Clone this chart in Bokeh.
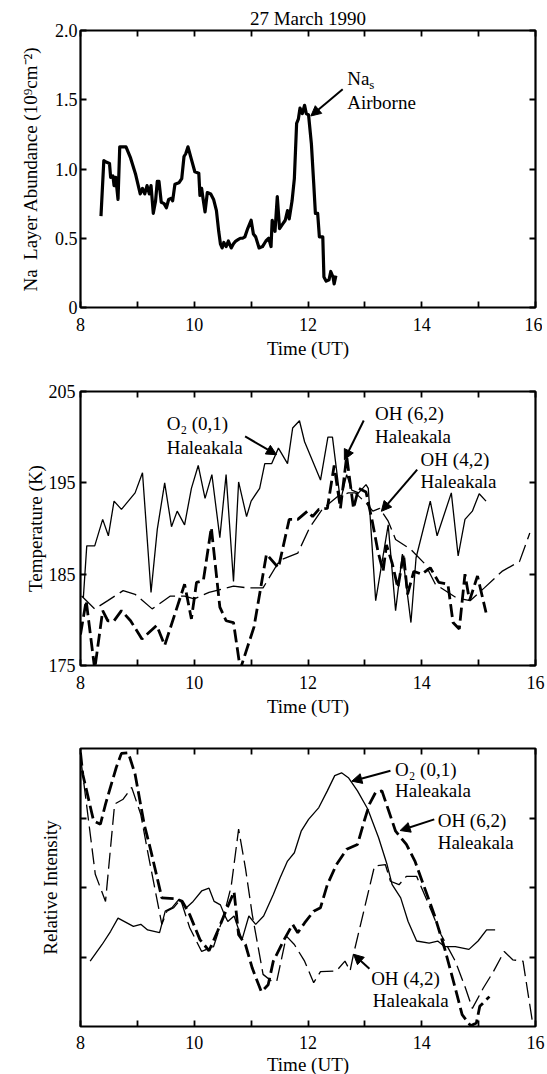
from bokeh.plotting import figure
from bokeh.models import LinearAxis, FixedTicker, Range1d, Label, Arrow, NormalHead, CustomLabelingPolicy
from bokeh.layouts import column
from bokeh.embed import file_html
from bokeh.resources import INLINE

FONT = "Liberation Serif"

# ---------------- data ----------------
# Panel 1: Na layer abundance (airborne), 10^9 cm^-2
na_time = [8.36, 8.41, 8.45, 8.51, 8.53, 8.57, 8.59, 8.62, 8.66, 8.69, 8.72, 8.80, 8.88, 8.97,
           9.05, 9.09, 9.13, 9.17, 9.21, 9.24, 9.28, 9.32, 9.35, 9.38, 9.42, 9.47, 9.51, 9.55,
           9.60, 9.62, 9.66, 9.73, 9.78, 9.82, 9.85, 9.89, 9.95, 10.01, 10.08, 10.10, 10.13,
           10.15, 10.19, 10.23, 10.29, 10.34, 10.39, 10.43, 10.46, 10.49, 10.52, 10.56, 10.60,
           10.65, 10.69, 10.73, 10.77, 10.81, 10.85, 10.89, 10.94, 11.00, 11.04, 11.08, 11.14,
           11.20, 11.26, 11.31, 11.35, 11.37, 11.42, 11.46, 11.50, 11.55, 11.60, 11.64, 11.67,
           11.72, 11.76, 11.80, 11.83, 11.86, 11.90, 11.94, 11.97, 12.01, 12.06, 12.10, 12.13,
           12.17, 12.20, 12.26, 12.28, 12.32, 12.37, 12.40, 12.44, 12.46, 12.49]
na_abund = [0.66, 1.06, 1.05, 1.04, 0.94, 0.95, 0.88, 0.94, 0.78, 1.16, 1.16, 1.16, 1.08, 0.96,
            0.82, 0.86, 0.82, 0.88, 0.82, 0.88, 0.68, 0.77, 0.91, 0.91, 0.76, 0.75, 0.72, 0.78,
            0.79, 0.77, 0.89, 0.90, 0.93, 1.09, 1.11, 1.16, 1.07, 0.98, 0.97, 0.81, 0.86,
            0.80, 0.69, 0.83, 0.82, 0.78, 0.70, 0.55, 0.46, 0.43, 0.47, 0.44, 0.48,
            0.43, 0.46, 0.48, 0.49, 0.50, 0.50, 0.51, 0.57, 0.63, 0.53, 0.51, 0.43,
            0.44, 0.48, 0.50, 0.44, 0.63, 0.55, 0.80, 0.57, 0.60, 0.63, 0.70, 0.64,
            0.77, 0.93, 1.33, 1.36, 1.44, 1.40, 1.46, 1.40, 1.39, 1.18, 0.90, 0.68,
            0.68, 0.51, 0.51, 0.22, 0.19, 0.20, 0.26, 0.22, 0.17, 0.23]

# Panel 2: rotational temperatures (K)
o2_temp_time = [8.05, 8.11, 8.25, 8.39, 8.49, 8.59, 8.72, 8.96, 9.09, 9.24, 9.35, 9.48, 9.60,
                9.70, 9.83, 9.95, 10.07, 10.19, 10.31, 10.45, 10.56, 10.69, 10.78, 10.92, 11.00,
                11.15, 11.24, 11.36, 11.48, 11.64, 11.73, 11.85, 11.94, 12.22, 12.35, 12.43,
                12.57, 12.68, 12.77, 12.89, 13.02, 13.06, 13.19, 13.41, 13.54, 13.66, 13.81,
                13.90, 14.15, 14.27, 14.52, 14.64, 14.76, 14.89, 15.01, 15.13]
o2_temp = [182.4, 188.1, 188.1, 191.0, 189.2, 193.0, 192.1, 193.9, 196.1, 183.0, 189.9, 195.0, 190.2,
           191.9, 190.4, 194.4, 196.9, 193.3, 195.9, 189.0, 195.9, 184.2, 195.1, 191.3, 193.0,
           194.4, 197.1, 197.1, 198.8, 197.1, 201.0, 201.8, 199.5, 195.3, 200.0, 200.0,
           193.0, 195.9, 194.2, 193.9, 194.8, 194.4, 182.1, 190.4, 181.0, 187.2, 179.7,
           186.8, 193.0, 189.2, 193.9, 187.0, 191.0, 191.9, 193.8, 193.0]
oh62_temp_time = [8.00, 8.10, 8.25, 8.39, 8.48, 8.59, 8.72, 8.88, 9.08, 9.34, 9.48, 9.83, 9.95,
                  10.04, 10.16, 10.30, 10.45, 10.56, 10.69, 10.81, 11.05, 11.27, 11.48, 11.67,
                  11.82, 11.99, 12.08, 12.19, 12.34, 12.46, 12.57, 12.68, 12.80, 12.89, 13.02,
                  13.13, 13.23, 13.32, 13.38, 13.48, 13.58, 13.68, 13.75, 13.86, 14.00, 14.15,
                  14.30, 14.46, 14.55, 14.66, 14.76, 14.84, 14.98, 15.13]
oh62_temp = [178.4, 182.1, 174.6, 181.0, 179.9, 179.9, 181.0, 179.9, 177.9, 179.4, 177.2, 183.9, 180.1,
             184.1, 184.3, 190.1, 181.4, 179.9, 179.7, 174.6, 179.2, 187.2, 185.7, 191.0,
             191.0, 191.9, 191.3, 192.1, 192.2, 196.9, 192.2, 197.9, 192.2, 194.4, 194.0,
             190.8, 187.5, 185.3, 188.2, 186.2, 183.5, 187.2, 182.8, 185.3, 185.0, 185.7,
             184.1, 183.9, 179.7, 179.0, 185.0, 182.1, 184.8, 180.8]
oh42_temp_time = [8.02, 8.25, 8.48, 8.75, 8.96, 9.26, 9.58, 9.83, 10.00, 10.26, 10.69, 10.93, 11.21,
                  11.50, 11.82, 12.03, 12.25, 12.52, 12.71, 12.83, 13.02, 13.14, 13.26, 13.41,
                  13.54, 13.81, 14.06, 14.24, 14.61, 14.85, 15.10, 15.41, 15.72, 15.90]
oh42_temp = [182.6, 181.2, 182.1, 183.2, 182.8, 181.2, 182.6, 182.6, 182.3, 183.0, 183.7, 183.5, 183.5,
             186.5, 187.3, 190.1, 192.1, 193.5, 193.9, 193.9, 192.8, 191.9, 192.2, 190.8,
             188.8, 187.7, 186.1, 183.9, 182.4, 182.1, 183.5, 185.3, 186.4, 189.5]

# Panel 3: relative intensities (arbitrary units)
o2_int_time = [8.17, 8.38, 8.53, 8.66, 8.93, 9.06, 9.18, 9.39, 9.49, 9.61, 9.73, 9.86, 9.98, 10.13,
               10.26, 10.35, 10.46, 10.53, 10.59, 10.70, 10.84, 10.96, 11.08, 11.22, 11.39, 11.51,
               11.64, 11.76, 11.88, 12.01, 12.19, 12.34, 12.47, 12.59, 12.71, 12.87, 13.05, 13.24,
               13.39, 13.48, 13.63, 13.76, 13.91, 14.13, 14.28, 14.40, 14.59, 14.83, 14.99, 15.14,
               15.29]
o2_int = [0.94, 1.18, 1.37, 1.56, 1.44, 1.47, 1.39, 1.35, 1.66, 1.71, 1.83, 1.71, 1.80, 1.95,
          1.99, 1.80, 1.75, 1.61, 1.51, 1.59, 1.25, 1.59, 1.47, 1.59, 1.90, 2.14,
          2.38, 2.50, 2.81, 2.98, 3.15, 3.39, 3.61, 3.65, 3.58, 3.39, 3.13, 2.72,
          2.33, 2.04, 1.85, 1.51, 1.23, 1.20, 1.23, 1.15, 1.15, 1.11, 1.23, 1.39,
          1.39]
oh62_int_time = [8.00, 8.04, 8.23, 8.35, 8.44, 8.63, 8.72, 8.84, 8.96, 9.12, 9.24, 9.43, 9.67, 9.79,
                 9.92, 10.10, 10.26, 10.41, 10.53, 10.70, 10.78, 10.90, 11.02, 11.18, 11.30, 11.39,
                 11.58, 11.73, 11.82, 11.94, 12.10, 12.22, 12.34, 12.50, 12.68, 12.87, 12.99, 13.08,
                 13.19, 13.30, 13.42, 13.54, 13.73, 13.88, 14.03, 14.22, 14.40, 14.59, 14.71, 14.86,
                 14.96, 15.02, 15.19]
oh62_int = [3.94, 3.63, 2.96, 2.91, 3.20, 3.73, 3.93, 3.94, 3.63, 2.91, 2.52, 1.85, 1.84, 1.80,
            1.61, 1.25, 1.09, 1.37, 1.61, 1.94, 1.32, 1.18, 0.84, 0.50, 0.60, 0.94,
            1.25, 1.47, 1.35, 1.49, 1.66, 1.71, 2.04, 2.33, 2.55, 2.62, 2.96, 3.20,
            3.37, 3.39, 3.10, 2.81, 2.62, 2.38, 2.04, 1.61, 1.13, 0.55, 0.17, 0.01,
            0.05, 0.29, 0.43]
oh42_int_time = [8.01, 8.26, 8.44, 8.60, 8.75, 8.90, 9.06, 9.18, 9.43, 9.52, 9.64, 9.76, 9.92, 10.13,
                 10.34, 10.53, 10.65, 10.78, 10.90, 11.02, 11.21, 11.36, 11.45, 11.62, 11.76, 11.94,
                 12.10, 12.22, 12.50, 12.65, 12.74, 12.80, 13.17, 13.36, 13.45, 13.60, 13.73, 13.91,
                 14.10, 14.34, 14.59, 14.77, 14.89, 15.08, 15.26, 15.45, 15.60, 15.78, 15.94]
oh42_int = [3.82, 2.19, 1.80, 3.20, 3.27, 3.44, 3.05, 2.52, 1.47, 1.66, 1.71, 1.83, 1.42, 1.08,
            1.15, 1.63, 2.02, 2.84, 2.28, 1.61, 0.75, 0.65, 0.65, 1.30, 1.18, 0.94,
            0.63, 0.79, 0.80, 0.94, 0.80, 1.04, 2.31, 2.33, 2.09, 2.04, 2.16, 2.16,
            1.80, 1.32, 0.94, 0.55, 0.26, 0.55, 0.79, 1.08, 0.96, 0.94, 0.10]

# ticks
x_major = [8, 10, 12, 14, 16]
x_minor = [9, 11, 13, 15]
na_yticks = [0, 0.5, 1.0, 1.5, 2.0]
na_ylabels = ["0", "0.5", "1.0", "1.5", "2.0"]
temp_yticks = [175, 185, 195, 205]
int_yticks = [1, 2, 3]

HIDE_ALL = """
for (const i of indices)
    indices.unset(i)
return indices
"""


def style_axis(ax, show_labels=True):
    ax.axis_line_color = None
    ax.major_tick_in = 6
    ax.major_tick_out = 0
    ax.minor_tick_in = 6
    ax.minor_tick_out = 0
    ax.major_tick_line_width = 1.8
    ax.minor_tick_line_width = 1.8
    ax.major_tick_line_color = "black"
    ax.minor_tick_line_color = "black"
    ax.major_label_text_font = FONT
    ax.major_label_text_color = "black"
    ax.axis_label_text_font = FONT
    ax.axis_label_text_font_style = "normal"
    ax.axis_label_text_font_size = "19px"
    ax.axis_label_text_color = "black"
    if show_labels:
        ax.major_label_text_font_size = "18px"
    else:
        ax.major_label_text_font_size = "0px"
        ax.major_label_policy = CustomLabelingPolicy(code=HIDE_ALL)
        ax.major_label_standoff = 0


def make_panel(bl, br, bt, bb, fh, yr, yticks, ylabels, ylabel, ylab_standoff, ytick_standoff,
               show_ylabels=True, title=None, xtick_standoff=10, xlab_standoff=4):
    p = figure(frame_width=455, frame_height=fh, x_range=Range1d(8, 16), y_range=Range1d(*yr),
               output_backend="svg", toolbar_location=None,
               min_border_left=bl, min_border_right=br, min_border_top=bt, min_border_bottom=bb,
               title=title)
    p.grid.visible = False
    p.outline_line_color = "black"
    p.outline_line_width = 2.2
    p.background_fill_color = "white"
    p.border_fill_color = "white"
    xt = FixedTicker(ticks=x_major, minor_ticks=x_minor)
    yt = FixedTicker(ticks=yticks, minor_ticks=[])
    xa = p.xaxis[0]
    xa.ticker = xt
    style_axis(xa)
    xa.axis_label = "Time (UT)"
    xa.major_label_standoff = xtick_standoff
    xa.axis_label_standoff = xlab_standoff
    ya = p.yaxis[0]
    ya.ticker = yt
    style_axis(ya, show_labels=show_ylabels)
    ya.axis_label = ylabel
    if show_ylabels:
        ya.major_label_overrides = {t: l for t, l in zip(yticks, ylabels)}
        ya.major_label_standoff = ytick_standoff
    ya.axis_label_standoff = ylab_standoff
    ra = LinearAxis(ticker=yt)
    style_axis(ra, show_labels=False)
    p.add_layout(ra, "right")
    ta = LinearAxis(ticker=xt)
    style_axis(ta, show_labels=False)
    p.add_layout(ta, "above")
    return p


def add_label(p, x, y, text, size="19px"):
    p.add_layout(Label(x=x, y=y, text=text, text_font=FONT, text_font_size=size,
                       text_baseline="middle", text_align="left", text_color="black"))


def add_arrow(p, x0, y0, x1, y1):
    p.add_layout(Arrow(end=NormalHead(size=10, fill_color="black", line_color="black", line_width=1),
                       x_start=x0, y_start=y0, x_end=x1, y_end=y1,
                       line_width=2, line_color="black"))


# ---------------- panel 1 ----------------
p1 = make_panel(75, 12, 30, 53, 277, (0, 2), na_yticks, na_ylabels,
                "Na\u00a0\u00a0Layer Abundance (10⁹cm⁻²)", 11, 3, title="27 March 1990")
p1.title.align = "center"
p1.title.text_font = FONT
p1.title.text_font_size = "19px"
p1.title.text_font_style = "normal"
p1.title.text_color = "black"
p1.title.standoff = 3
p1.line(na_time, na_abund, line_color="black", line_width=3.2, line_join="round")
add_label(p1, 12.69, 1.656, "Na")
p1.add_layout(Label(x=12.69, y=1.656, x_offset=22, y_offset=-6, text="s", text_font=FONT,
                    text_font_size="13px", text_baseline="middle", text_align="left",
                    text_color="black"))
add_label(p1, 12.69, 1.48, "Airborne")
add_arrow(p1, 12.61, 1.576, 12.05, 1.383)

# ---------------- panel 2 ----------------
p2 = make_panel(78, 12, 30, 51, 274, (175, 205), temp_yticks, [str(t) for t in temp_yticks],
                "Temperature (K)", 0, 5)
p2.line(o2_temp_time, o2_temp, line_color="black", line_width=1.3)
p2.line(oh62_temp_time, oh62_temp, line_color="black", line_width=2.8, line_dash="13 5")
p2.line(oh42_temp_time, oh42_temp, line_color="black", line_width=1.3, line_dash="18 6")
add_label(p2, 9.515, 201.53, "O₂ (0,1)")
add_label(p2, 9.515, 198.87, "Haleakala")
add_arrow(p2, 10.894, 200.08, 11.446, 198.08)
add_label(p2, 13.18, 202.63, "OH (6,2)")
add_label(p2, 13.18, 200.08, "Haleakala")
add_arrow(p2, 12.98, 201.83, 12.64, 197.53)
add_label(p2, 13.98, 197.53, "OH (4,2)")
add_label(p2, 13.98, 195.16, "Haleakala")
add_arrow(p2, 13.92, 196.44, 13.29, 191.88)

# ---------------- panel 3 ----------------
p3 = make_panel(80, 10, 29, 50, 278, (0, 4), int_yticks, None,
                "Relative Intensity", 20, 0, show_ylabels=False, xtick_standoff=9, xlab_standoff=2)
p3.line(o2_int_time, o2_int, line_color="black", line_width=1.3)
p3.line(oh62_int_time, oh62_int, line_color="black", line_width=2.8, line_dash="13 5")
p3.line(oh42_int_time, oh42_int, line_color="black", line_width=1.3, line_dash="16 6")
add_label(p3, 13.53, 3.70, "O₂ (0,1)")
add_label(p3, 13.53, 3.39, "Haleakala")
add_arrow(p3, 13.45, 3.68, 12.77, 3.53)
add_label(p3, 14.28, 2.97, "OH (6,2)")
add_label(p3, 14.28, 2.65, "Haleakala")
add_arrow(p3, 14.22, 2.98, 13.62, 2.82)
add_label(p3, 13.11, 0.685, "OH (4,2)")
add_label(p3, 13.14, 0.37, "Haleakala")
add_arrow(p3, 13.08, 0.83, 12.80, 1.04)

layout = column(p1, p2, p3, spacing=0)
open("out.html", "w").write(file_html(layout, INLINE))
